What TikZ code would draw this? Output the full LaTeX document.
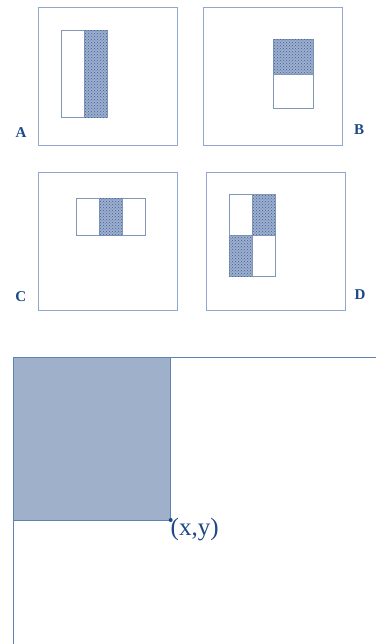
\documentclass[tikz,border=0pt]{standalone}
\usepackage{fontspec}
\setmainfont{Liberation Serif}
\usepackage{tikz}
\usetikzlibrary{patterns}
\definecolor{frameblue}{RGB}{143,168,204}
\definecolor{hatchblue}{RGB}{60,95,155}
\definecolor{textblue}{RGB}{28,72,135}
\definecolor{areablue}{RGB}{158,176,202}
\definecolor{edgeblue}{RGB}{95,130,176}
\begin{document}
\begin{tikzpicture}[x=1pt,y=-1pt,
  frame/.style={draw=frameblue,line width=1pt},
  cell/.style={draw=frameblue!90!black,line width=1pt},
  dark/.style={cell,fill=hatchblue!50,postaction={pattern=crosshatch dots,pattern color=hatchblue}},
  lbl/.style={text=textblue,font=\bfseries\fontsize{15}{18}\selectfont}]
\useasboundingbox(0,0)rectangle(376,644);
% A
\draw[frame](38.3,7.7)rectangle(177,146);
\draw[cell](61.7,31)rectangle(84,117.3);
\draw[dark](84,31)rectangle(107.7,117.3);
\node[lbl](labA)at(21,133){A};
% B
\draw[frame](203.3,7.7)rectangle(342.3,146);
\draw[dark](273,39.3)rectangle(313.3,74.7);
\draw[cell](273,74.7)rectangle(313.3,108.7);
\node[lbl](labB)at(359,130){B};
% C
\draw[frame](38.3,172.3)rectangle(177,310);
\draw[cell](76,198.3)rectangle(99,235.7);
\draw[dark](99,198.3)rectangle(122.7,235.7);
\draw[cell](122.7,198.3)rectangle(145.7,235.7);
\node[lbl](labC)at(20.7,296.7){C};
% D
\draw[frame](206.7,172.3)rectangle(345,310);
\draw[cell](229.3,195)rectangle(252.3,235.7);
\draw[dark](252.3,195)rectangle(275.7,235.7);
\draw[dark](229.3,235.7)rectangle(252.3,276.3);
\draw[cell](252.3,235.7)rectangle(275.7,276.3);
\node[lbl](labD)at(360,294.3){D};
% integral image
\draw[edgeblue,line width=1pt](376,357.7)--(13.3,357.7)--(13.3,644);
\draw[edgeblue,line width=1pt,fill=areablue](13.3,357.7)rectangle(170.7,520);
\fill[textblue](170.7,520)circle[radius=2pt];
\node[text=textblue,font=\fontsize{25}{28}\selectfont,anchor=west,inner sep=0pt](xy)at(170.5,529.5){(x,y)};
\end{tikzpicture}
\end{document}
